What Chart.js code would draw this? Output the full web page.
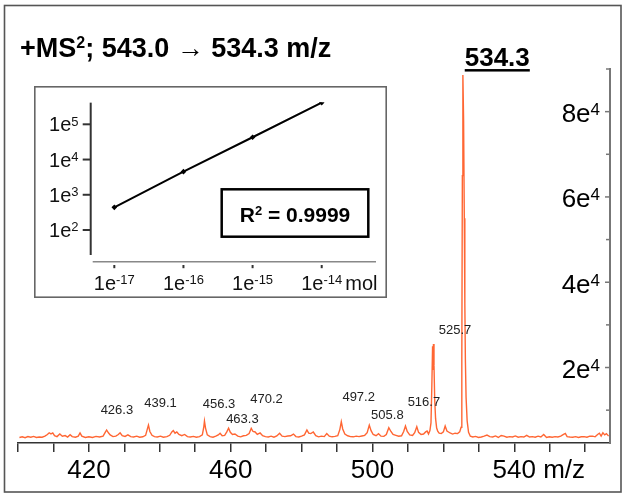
<!DOCTYPE html>
<html><head><meta charset="utf-8">
<script src="https://cdn.jsdelivr.net/npm/chart.js@4.4.1/dist/chart.umd.min.js"></script>
<style>
html,body{margin:0;padding:0;background:#fff;}
#wrap{position:relative;width:626px;height:499px;overflow:hidden;}
#main{position:absolute;left:0;top:0;}
#inset{position:absolute;left:34px;top:86px;}
</style></head><body>
<div id="wrap"><canvas id="main" width="626" height="499"></canvas><canvas id="inset" width="353" height="212"></canvas></div>
<script>
// ---------- data ----------
const mzValues = [
400.4,401.2,402.0,402.8,403.6,404.4,405.2,406.0,406.8,407.6,408.3,408.8,409.3,409.8,410.3,411.0,411.8,412.5,413.3,414.0,
414.7,415.3,416.2,417.0,417.5,418.0,419.0,420.0,421.0,422.0,423.0,424.0,424.6,425.0,425.5,426.0,426.8,427.6,428.3,428.8,
429.4,430.2,431.0,431.8,432.6,433.5,434.3,435.2,436.0,436.5,436.8,437.2,437.8,438.5,439.3,440.2,441.0,442.0,442.8,443.4,
443.8,444.3,444.8,445.4,446.2,447.0,447.8,448.6,449.5,450.3,451.2,452.0,452.4,452.6,452.9,453.4,454.2,455.0,455.8,456.5,
457.0,457.6,458.3,458.9,459.4,459.9,460.5,461.2,462.0,462.8,463.6,464.4,465.2,465.8,466.3,466.9,467.5,468.3,469.0,469.8,
470.6,471.4,472.2,473.0,473.8,474.5,475.3,476.1,476.9,477.7,478.4,479.2,480.0,480.8,481.5,482.0,482.6,483.3,484.0,484.8,
485.6,486.4,487.1,487.8,488.6,489.4,490.2,490.8,491.2,491.6,492.2,493.0,493.8,494.6,495.4,496.2,497.0,497.8,498.5,499.1,
499.6,500.2,501.0,501.7,502.4,503.2,503.9,504.6,505.2,505.8,506.6,507.4,508.2,508.8,509.3,509.8,510.5,511.3,511.9,512.5,
513.0,513.7,514.4,515.0,515.4,515.8,516.2,516.5,516.75,516.95,517.05,517.2,517.35,517.55,517.8,518.1,518.4,518.8,519.4,520.0,
520.5,521.0,521.9,522.6,523.3,524.0,524.6,525.0,525.2,525.35,525.5,525.7,525.9,526.05,526.2,526.4,526.7,527.1,527.6,528.3,
529.1,529.9,530.7,531.5,532.3,533.1,533.9,534.7,535.5,536.3,537.1,537.9,538.7,539.5,540.3,541.1,541.9,542.7,543.5,544.3,
545.1,545.9,546.7,547.5,548.3,549.1,549.9,550.7,551.5,552.3,553.1,553.9,554.4,554.9,555.7,556.5,557.3,558.1,558.9,559.7,
560.5,561.3,562.1,562.8,563.5,564.0,564.5,565.0,565.5,566.0,566.6
];
const intensityValues = [
3600,3750,3550,3800,3650,3850,3600,3700,3650,3900,4300,4700,4450,4650,4000,3800,4400,3900,4050,3700,
4250,3800,3650,3900,4650,3900,3600,3750,3600,3850,3700,3900,4800,5350,4700,4200,3800,3900,4300,4700,
4000,3850,4200,3800,3700,3900,3650,3750,4100,5600,6500,5000,4100,3800,3700,3900,3650,3800,4100,4900,
5200,4600,4880,4300,4000,4300,3800,3700,3850,3650,3800,4200,6000,7450,5800,4200,3800,3650,3900,4200,
4600,4000,4100,4900,5750,4800,4300,4400,3900,3750,4000,4100,4500,5750,5000,4880,4300,4650,4000,3800,
3700,3900,3650,3950,4575,3900,3800,3950,4000,4400,3800,3700,3900,4200,5350,4600,4500,4880,4000,3750,
3900,3800,4530,3900,3750,3850,4000,5500,7300,5600,4400,4000,3800,3750,3900,3800,3950,4100,4700,6500,
5200,4300,4000,4480,3900,3850,4300,5900,5000,4300,4100,3900,4000,5000,6300,5000,4200,4050,4700,6100,
4800,4300,4400,4900,5100,4400,5200,7000,16000,25000,19400,25500,20500,12500,8000,5800,5100,4600,4500,4900,
6290,5100,4645,4400,4600,4500,4900,6000,22000,65000,88600,78000,55000,35000,22000,13000,7500,4800,3900,3700,
3850,3600,3700,3900,4150,3800,3700,3950,3600,4050,3900,3650,3800,3700,3950,3650,3800,3700,4100,3700,
3800,3650,3900,3700,4300,3600,3750,3650,3800,3700,3900,4300,4550,3800,3700,3650,3800,3600,3750,3800,
3650,3900,3900,3750,4300,4600,3900,4700,4200,4500,3900
];
const xTickValues = [400,410,420,430,440,450,460,470,480,490,500,510,520,530,540,550,560];
const xLabelValues = [420,460,500,540];
const xAxisUnit = 'm/z';
const yTickValues = [10000,20000,30000,40000,50000,60000,70000,80000,90000];
const yLabelValues = [20000,40000,60000,80000];
const yLabelTexts = [['2e','4'],['4e','4'],['6e','4'],['8e','4']];
const peakLabelTexts = ['426.3','439.1','456.3','470.2','463.3','497.2','505.8','516.7','525.7'];
const peakLabelMz = [427.9,440.2,456.7,470.1,463.3,496.1,504.2,514.5,523.3];
const peakLabelIntensity = [9870,11610,11450,12550,7860,12900,8870,11750,28630];
const mainPeakText = '534.3';
const mainPeakMz = 535.2;
const mainPeakIntensity = 92800;
const titleParts = [['+MS',false],['2',true],['; 543.0 \u2192 534.3 m/z',false]];

const insetAmount = [1e-17,1e-16,1e-15,1e-14];
const insetResponse = [440,4530,42950,413000];
const insetXTicks = [1e-17,1e-16,1e-15,1e-14];
const insetXTickLabels = [['1e','-17'],['1e','-16'],['1e','-15'],['1e','-14']];
const insetXUnit = 'mol';
const insetYTicks = [1e2,1e3,1e4,1e5];
const insetYTickLabels = [['1e','2'],['1e','3'],['1e','4'],['1e','5']];
const r2Parts = [['R',false],['2',true],[' = 0.9999',false]];

// ---------- helpers ----------
const FONT = '"Liberation Sans", Arial, Helvetica, sans-serif';
const expParts = (lbl) => [[lbl[0],false],[lbl[1],true]];
function drawParts(ctx, parts, x, baseline, size, supSize, weight, align, color){
  const segs = parts.map(([t,sup])=>{
    ctx.font = `${weight} ${sup?supSize:size}px ${FONT}`;
    return {t, sup, w: ctx.measureText(t).width};
  });
  const total = segs.reduce((a,s)=>a+s.w,0);
  let cx = align==='right' ? x-total : align==='center' ? x-total/2 : x;
  ctx.textAlign='left'; ctx.textBaseline='alphabetic'; ctx.fillStyle=color||'#000';
  for(const s of segs){
    ctx.font = `${weight} ${s.sup?supSize:size}px ${FONT}`;
    const by = s.sup ? baseline - 0.716*size + 0.716*supSize - 0.5 : baseline;
    ctx.fillText(s.t, cx, by);
    cx += s.w;
  }
  return total;
}

// ---------- main chart ----------
const mainDecor = {
  id:'mainDecor',
  afterDraw(chart){
    const ctx = chart.ctx, xs = chart.scales.x, ys = chart.scales.y;
    const right = chart.chartArea.right;
    ctx.save();
    // frame
    ctx.strokeStyle='#555'; ctx.lineWidth=1.6;
    ctx.strokeRect(4.5,5.5,616.5,486.5);
    // right axis inner tick marks + labels
    ctx.strokeStyle='#777'; ctx.lineWidth=1.5;
    yTickValues.forEach(v=>{
      const y = ys.getPixelForValue(v);
      const len = yLabelValues.includes(v) ? 5 : 4;
      ctx.beginPath(); ctx.moveTo(right-len,y); ctx.lineTo(right,y); ctx.stroke();
    });
    yLabelValues.forEach((v,i)=>{
      const y = ys.getPixelForValue(v);
      drawParts(ctx, expParts(yLabelTexts[i]), right-10, y+10.5, 26, 17, 'normal', 'right', '#000');
    });
    // unit after the last x label
    const lastX = xs.getPixelForValue(xLabelValues[xLabelValues.length-1]);
    ctx.font = `normal 26px ${FONT}`;
    const w = ctx.measureText(String(xLabelValues[xLabelValues.length-1])).width;
    const sp = ctx.measureText(' ').width;
    ctx.fillStyle='#000'; ctx.textAlign='left'; ctx.textBaseline='middle';
    ctx.fillText(xAxisUnit, lastX + w/2 + sp, xs.top + 9 + 3 + 26*1.2/2);
    // title
    drawParts(ctx, titleParts, 20, 56.5, 27, 16, 'bold', 'left', '#000');
    // peak labels
    ctx.font = `normal 13px ${FONT}`; ctx.fillStyle='#222';
    ctx.textAlign='center'; ctx.textBaseline='middle';
    peakLabelTexts.forEach((t,i)=>{
      ctx.fillText(t, xs.getPixelForValue(peakLabelMz[i]), ys.getPixelForValue(peakLabelIntensity[i]));
    });
    // main peak label (bold, underlined)
    const px = xs.getPixelForValue(mainPeakMz), py = ys.getPixelForValue(mainPeakIntensity);
    ctx.font = `bold 26px ${FONT}`; ctx.fillStyle='#000';
    ctx.textAlign='center'; ctx.textBaseline='alphabetic';
    ctx.fillText(mainPeakText, px, py + 9.3);
    const mw = ctx.measureText(mainPeakText).width;
    ctx.fillRect(px-mw/2, py+12, mw, 2.5);
    ctx.restore();
  }
};

new Chart(document.getElementById('main'), {
  type:'line',
  data:{datasets:[{
    data: mzValues.map((m,i)=>({x:m, y:intensityValues[i]})),
    borderColor:'#ff6633', borderWidth:1.4, pointRadius:0, tension:0, fill:false
  }]},
  options:{
    responsive:false, animation:false, devicePixelRatio:1,
    layout:{padding:{left:18, top:69, right:0, bottom:0}, autoPadding:false},
    plugins:{legend:{display:false}, tooltip:{enabled:false}, title:{display:false}},
    scales:{
      x:{type:'linear', position:'bottom', min:400, max:567,
        afterBuildTicks(s){ s.ticks = xTickValues.map(v=>({value:v})); },
        afterFit(s){ s.height = 56; },
        ticks:{autoSkip:false, maxRotation:0, padding:3, color:'#000',
          font:{family:FONT, size:26},
          callback:(v)=> xLabelValues.includes(v) ? String(v) : ''},
        grid:{drawOnChartArea:false, drawTicks:true, tickLength:9, color:'#333', lineWidth:1.5},
        border:{display:true, color:'#333', width:1.5}
      },
      y:{type:'linear', position:'right', min:2300, max:90000,
        afterFit(s){ s.width = 16; },
        ticks:{display:false},
        grid:{display:false},
        border:{display:true, color:'#777', width:2}
      }
    }
  },
  plugins:[mainDecor]
});

// ---------- inset chart ----------
const insetDecor = {
  id:'insetDecor',
  beforeDraw(chart){
    const ctx = chart.ctx;
    ctx.save(); ctx.fillStyle='#fff'; ctx.fillRect(0,0,chart.width,chart.height); ctx.restore();
  },
  afterDraw(chart){
    const ctx = chart.ctx, xs = chart.scales.x, ys = chart.scales.y, ca = chart.chartArea;
    ctx.save();
    ctx.strokeStyle='#666'; ctx.lineWidth=1.6;
    ctx.strokeRect(0.8,0.8,351.4,210.4);
    // y axis
    ctx.strokeStyle='#333'; ctx.lineWidth=2;
    ctx.beginPath(); ctx.moveTo(ca.left-0.3, ca.top+0.3); ctx.lineTo(ca.left-0.3, ca.bottom-6.7); ctx.stroke();
    insetYTicks.forEach((v,i)=>{
      const y = ys.getPixelForValue(v);
      ctx.strokeStyle='#333'; ctx.lineWidth=2;
      ctx.beginPath(); ctx.moveTo(ca.left-8.3,y); ctx.lineTo(ca.left-0.3,y); ctx.stroke();
      drawParts(ctx, expParts(insetYTickLabels[i]), ca.left-12.5, y+7, 20, 13, 'normal', 'right', '#111');
    });
    // x axis
    ctx.strokeStyle='#888'; ctx.lineWidth=1.6;
    ctx.beginPath(); ctx.moveTo(ca.left+1.7, ca.bottom); ctx.lineTo(ca.right, ca.bottom); ctx.stroke();
    insetXTicks.forEach((v,i)=>{
      const x = xs.getPixelForValue(v);
      ctx.strokeStyle='#333'; ctx.lineWidth=2;
      ctx.beginPath(); ctx.moveTo(x, ca.bottom+3.3); ctx.lineTo(x, ca.bottom+6.5); ctx.stroke();
      const w = drawParts(ctx, expParts(insetXTickLabels[i]), x, 204, 20, 13, 'normal', 'center', '#111');
      if(i===insetXTicks.length-1){
        ctx.font = `normal 20px ${FONT}`; ctx.fillStyle='#111'; ctx.textAlign='left';
        ctx.fillText(insetXUnit, x + w/2 + 3, 204);
      }
    });
    // R^2 box
    ctx.strokeStyle='#000'; ctx.lineWidth=2.5;
    ctx.strokeRect(187.7,103.3,146.6,47.4);
    drawParts(ctx, r2Parts, 261, 135.5, 21, 13, 'bold', 'center', '#000');
    ctx.restore();
  }
};

new Chart(document.getElementById('inset'), {
  type:'line',
  data:{datasets:[{
    data: insetAmount.map((a,i)=>({x:a, y:insetResponse[i]})),
    borderColor:'#000', borderWidth:2, tension:0,
    pointStyle:'rectRot', pointRadius:2.8, pointBackgroundColor:'#000', pointBorderColor:'#000', pointBorderWidth:0
  }]},
  options:{
    responsive:false, animation:false, devicePixelRatio:1,
    layout:{padding:{left:57, right:11, top:16.35, bottom:36.3}, autoPadding:false},
    plugins:{legend:{display:false}, tooltip:{enabled:false}},
    scales:{
      x:{type:'logarithmic', display:false, min:4.6e-18, max:6.1e-14},
      y:{type:'logarithmic', display:false, min:12.6, max:4.2e5}
    }
  },
  plugins:[insetDecor]
});
</script>
</body></html>
